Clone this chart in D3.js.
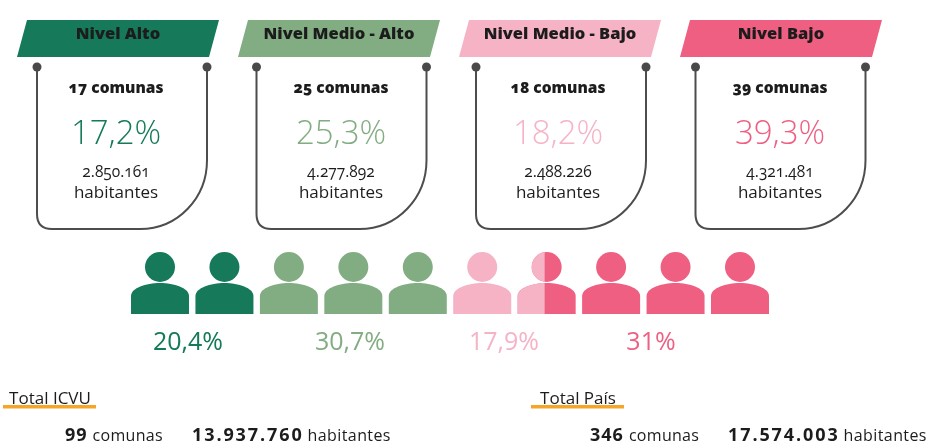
<!DOCTYPE html>
<html>
<head>
<meta charset="utf-8">
<script src="https://d3js.org/d3.v7.min.js"></script>
<style>
    html, body { margin: 0; padding: 0; background: #fff; }
    svg { display: block; }
    text { font-family: "Open Sans", sans-serif; fill: #1c1c1c; }
    .old { font-variant-numeric: oldstyle-nums; font-feature-settings: "onum" 1; }
</style>
</head>
<body>
<div id="my_dataviz"></div>
<script>
    // values
    var levels = ["Nivel Alto", "Nivel Medio - Alto", "Nivel Medio - Bajo", "Nivel Bajo"];
    var comunas = ["17 comunas", "25 comunas", "18 comunas", "39 comunas"];
    var shares = ["17,2%", "25,3%", "18,2%", "39,3%"];
    var habitantes = ["2.850.161", "4.277.892", "2.488.226", "4.321.481"];
    var colors = ["#13795a", "#82ad82", "#f5b3c5", "#ee5f82"];

    // ten people: which level each one is drawn in (person 7 is half and half)
    var peopleLeft = [0, 0, 1, 1, 1, 2, 2, 3, 3, 3];
    var peopleRight = [0, 0, 1, 1, 1, 2, 3, 3, 3, 3];
    var peopleShares = ["20,4%", "30,7%", "17,9%", "31%"];

    var totals = [
        { title: "Total ICVU", comunas: "99", habitantes: "13.937.760" },
        { title: "Total País", comunas: "346", habitantes: "17.574.003" }
    ];

    var width = 928, height = 446;

    var svg = d3.select("#my_dataviz")
        .append("svg")
        .attr("width", width)
        .attr("height", height);

    // the source is a soft, low res image
    svg.append("defs").append("filter")
        .attr("id", "soft")
        .append("feGaussianBlur")
        .attr("stdDeviation", 0.45);

    svg.select("defs").append("clipPath")
        .attr("id", "leftHalf")
        .append("rect").attr("x", -40).attr("y", -40).attr("width", 38).attr("height", 110);

    var root = svg.append("g").attr("filter", "url(#soft)");

    var bannerX = d3.scalePoint().domain(levels).range([118, 781]);
    var cardX = d3.scalePoint().domain(levels).range([122, 780.5]);
    var cardTextX = d3.scaleOrdinal().domain(levels).range([116, 341, 558, 780]);
    var personX = d3.scalePoint().domain(d3.range(10)).range([160, 740]);
    var shareX = d3.scaleOrdinal().domain(peopleShares).range([188, 350, 504, 651]);
    var totalX = d3.scaleOrdinal().domain(totals.map(function (d) { return d.title; })).range([0, 528]);

    // Banners
    var banner = root.selectAll(".banner")
        .data(levels).enter().append("g")
        .attr("class", "banner")
        .attr("transform", function (d) { return "translate(" + bannerX(d) + ",0)"; });

    banner.append("path")
        .attr("d", "M-91,20 L101,20 L91,57 L-101,57 Z")
        .attr("fill", function (d, i) { return colors[i]; });

    banner.append("text")
        .attr("text-anchor", "middle")
        .attr("y", 39)
        .attr("font-size", 16.5)
        .attr("font-weight", 800)
        .text(function (d) { return d; });

    // Cards
    var card = root.selectAll(".card")
        .data(levels).enter().append("g")
        .attr("class", "card")
        .attr("transform", function (d) { return "translate(" + cardX(d) + ",0)"; });

    card.append("path")
        .attr("d", "M-85,67 V214 Q-85,229 -70,229 H18 C56,229 85,198 85,160 V67")
        .attr("fill", "none")
        .attr("stroke", "#4d4d4d")
        .attr("stroke-width", 2);

    card.selectAll("circle")
        .data([-85, 85]).enter().append("circle")
        .attr("cx", function (d) { return d; })
        .attr("cy", 67)
        .attr("r", 4.5)
        .attr("fill", "#4a4a4a");

    // Card texts sit a little off the card centre, so they hang off the root
    var cardText = root.selectAll(".cardText")
        .data(levels).enter().append("g")
        .attr("class", "cardText")
        .attr("text-anchor", "middle")
        .attr("transform", function (d) { return "translate(" + cardTextX(d) + ",0)"; });

    cardText.append("text")
        .attr("class", "old")
        .attr("y", 93)
        .attr("font-size", 15.5)
        .attr("font-weight", 800)
        .text(function (d, i) { return comunas[i]; });

    cardText.append("text")
        .attr("y", 144)
        .attr("font-size", 33)
        .attr("font-weight", 300)
        .style("fill", function (d, i) { return colors[i]; })
        .text(function (d, i) { return shares[i]; });

    cardText.append("text")
        .attr("class", "old")
        .attr("y", 177)
        .attr("font-size", 15.5)
        .text(function (d, i) { return habitantes[i]; });

    cardText.append("text")
        .attr("y", 198)
        .attr("font-size", 17)
        .text("habitantes");

    // People
    function drawPerson(g, color) {
        g.append("ellipse")
            .attr("cy", -16)
            .attr("rx", 15)
            .attr("ry", 15)
            .attr("fill", color);
        g.append("path")
            .attr("d", "M-29,31 V13 C-29,5 -14,0 0,0 C14,0 29,5 29,13 V31 Z")
            .attr("fill", color);
    }

    var person = root.selectAll(".person")
        .data(d3.range(10)).enter().append("g")
        .attr("class", "person")
        .attr("transform", function (d) { return "translate(" + personX(d) + ",283)"; });

    person.each(function (d) {
        var g = d3.select(this);
        drawPerson(g.append("g"), colors[peopleRight[d]]);
        // only the split person gets a second colour over the left part
        if (peopleLeft[d] !== peopleRight[d]) {
            drawPerson(g.append("g").attr("clip-path", "url(#leftHalf)"), colors[peopleLeft[d]]);
        }
    });

    root.selectAll(".peopleShare")
        .data(peopleShares).enter().append("text")
        .attr("class", "peopleShare")
        .attr("text-anchor", "middle")
        .attr("x", function (d) { return shareX(d); })
        .attr("y", 350)
        .attr("font-size", 25)
        .style("fill", function (d, i) { return colors[i]; })
        .text(function (d) { return d; });

    // Totals
    var total = root.selectAll(".total")
        .data(totals).enter().append("g")
        .attr("class", "total")
        .attr("transform", function (d) { return "translate(" + totalX(d.title) + ",0)"; });

    total.append("rect")
        .attr("x", 3)
        .attr("y", 405)
        .attr("width", 93)
        .attr("height", 3.5)
        .attr("fill", "#f4a52c");

    total.append("text")
        .attr("x", 50)
        .attr("y", 404)
        .attr("text-anchor", "middle")
        .attr("font-size", 17)
        .text(function (d) { return d.title; });

    var line = total.append("text")
        .attr("y", 441)
        .attr("font-size", 16);

    line.append("tspan")
        .attr("x", function (d, i) { return i ? 62 : 65; })
        .attr("font-size", 18)
        .attr("font-weight", 700)
        .attr("letter-spacing", 1)
        .text(function (d) { return d.comunas; });
    line.append("tspan").attr("dx", 5).attr("letter-spacing", 0.3).text("comunas");
    line.append("tspan")
        .attr("x", function (d, i) { return i ? 200 : 192; })
        .attr("font-size", 18)
        .attr("font-weight", 700)
        .attr("letter-spacing", 1.9)
        .text(function (d) { return d.habitantes; });
    line.append("tspan").attr("dx", 4).attr("letter-spacing", 0.4).text("habitantes");
</script>
</body>
</html>
